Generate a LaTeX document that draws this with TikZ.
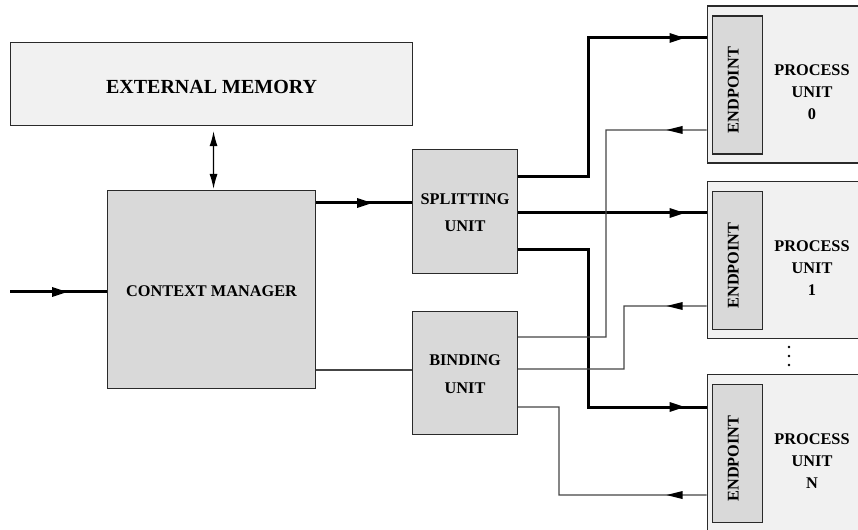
\documentclass[tikz,border=0pt]{standalone}
\usepackage{fontspec}
\setmainfont{Liberation Serif}
\usetikzlibrary{arrows.meta,decorations.markings}

\definecolor{outerfill}{HTML}{F1F1F1}
\definecolor{innerfill}{HTML}{D9D9D9}
\definecolor{edgecol}{HTML}{2A2A2A}
\definecolor{wirecol}{HTML}{454545}

\tikzset{
  box/.style={draw=edgecol, line width=1.1bp, inner sep=0pt, anchor=north west},
  outerbox/.style={box, fill=outerfill},
  innerbox/.style={box, fill=innerfill},
  lbl/.style={font=\bfseries\fontsize{16.3bp}{22bp}\selectfont, align=center, inner sep=0pt, text=black},
  blockl/.style={font=\bfseries\fontsize{16.3bp}{27.5bp}\selectfont, align=center, inner sep=0pt, text=black},
  bus/.style={line width=3bp, black},
  wire/.style={line width=1.3bp, wirecol},
  % filled triangular heads placed along a connector, tip at the given position
  bustip/.style={postaction={decorate, decoration={markings,
      mark=at position #1 with {\fill[black] (0bp,0bp) -- (-15bp,5bp) -- (-15bp,-5bp) -- cycle;}}}},
  wiretip/.style={postaction={decorate, decoration={markings,
      mark=at position #1 with {\fill[black] (0bp,0bp) -- (-16bp,4bp) -- (-16bp,-4bp) -- cycle;}}}},
}

\begin{document}
\begin{tikzpicture}[x=1bp, y=-1bp]
  \useasboundingbox (0,0) rectangle (858,530);

  % main blocks
  \node[outerbox, minimum width=402bp, minimum height=83bp] (mem) at (10,42) {};
  \node[lbl, font=\bfseries\fontsize{20bp}{24bp}\selectfont] (memtxt) at ([yshift=-3bp]mem.center) {EXTERNAL MEMORY};

  \node[innerbox, minimum width=208bp, minimum height=198bp] (cm) at (107,190) {};
  \node[lbl] (cmtxt) at ([yshift=-2bp]cm.center) {CONTEXT MANAGER};

  \node[innerbox, minimum width=105bp, minimum height=124bp] (split) at (412,149) {};
  \node[blockl] (splittxt) at ([yshift=-1bp]split.center) {SPLITTING\\UNIT};

  \node[innerbox, minimum width=105bp, minimum height=123bp] (bind) at (412,311) {};
  \node[blockl] (bindtxt) at ([yshift=-1bp]bind.center) {BINDING\\UNIT};

  % process units with their endpoints
  \foreach \nm/\top/\idx in {pu0/5.5/0, pu1/181/1, puN/374/N}{
    \node[outerbox, minimum width=151bp, minimum height=157bp] (\nm) at (706.5,\top) {};
    \node[innerbox, minimum width=50.5bp, minimum height=138bp] (\nm ep) at ([shift={(5,10)}]\nm.north west) {};
    \node[lbl, rotate=90] (\nm eptxt) at ([shift={(-4,5)}]\nm ep.center) {ENDPOINT};
    \node[lbl] (\nm txt) at ([shift={(105.5,87)}]\nm.north west) {PROCESS\\UNIT\\\idx};
  }

  % dots between unit 1 and unit N
  \foreach \yy [count=\k] in {347,356,365}
    \fill[black] (789,\yy) circle (1.4bp) coordinate (dot\k);

  % memory <-> context manager
  \draw[line width=1.3bp, black, {Latex[length=15bp,width=8bp]}-{Latex[length=15bp,width=8bp]},
        shorten <=5bp, shorten >=1bp]
    ([xshift=2bp]mem.south) -- ([xshift=2bp]cm.north);

  % input
  \coordinate (in) at (10,292);
  \draw[bus, bustip=57bp] (in) -- (in -| cm.west);

  % context manager -> splitting / binding
  \draw[bus, bustip=-40bp] ([yshift=-13bp]cm.north east) coordinate (c1) -- (c1 -| split.west);
  \draw[wire] ([yshift=19bp]cm.south east) coordinate (c2) -- (c2 -| bind.west);

  % splitting unit -> process units
  \draw[bus, bustip=-22bp] ([yshift=-28bp]split.north east) -- ++(70,0) |- (pu0.west |- 0,38);
  \draw[bus, bustip=-22bp] ([yshift=-64bp]split.north east) coordinate (s2) -- (s2 -| pu1.west);
  \draw[bus, bustip=-22bp] ([yshift=-100bp]split.north east) -- ++(70,0) |- (puN.west |- 0,407);

  % process units -> binding unit
  \draw[wire, wiretip=40bp] (pu0.west |- 0,130) -| (606,337) -- ([yshift=-26bp]bind.north east);
  \draw[wire, wiretip=40bp] (pu1.west |- 0,306) -| (624,369) -- ([yshift=-58bp]bind.north east);
  \draw[wire, wiretip=40bp] (puN.west |- 0,495) -| (559,407) -- ([yshift=-96bp]bind.north east);
\end{tikzpicture}
\end{document}
